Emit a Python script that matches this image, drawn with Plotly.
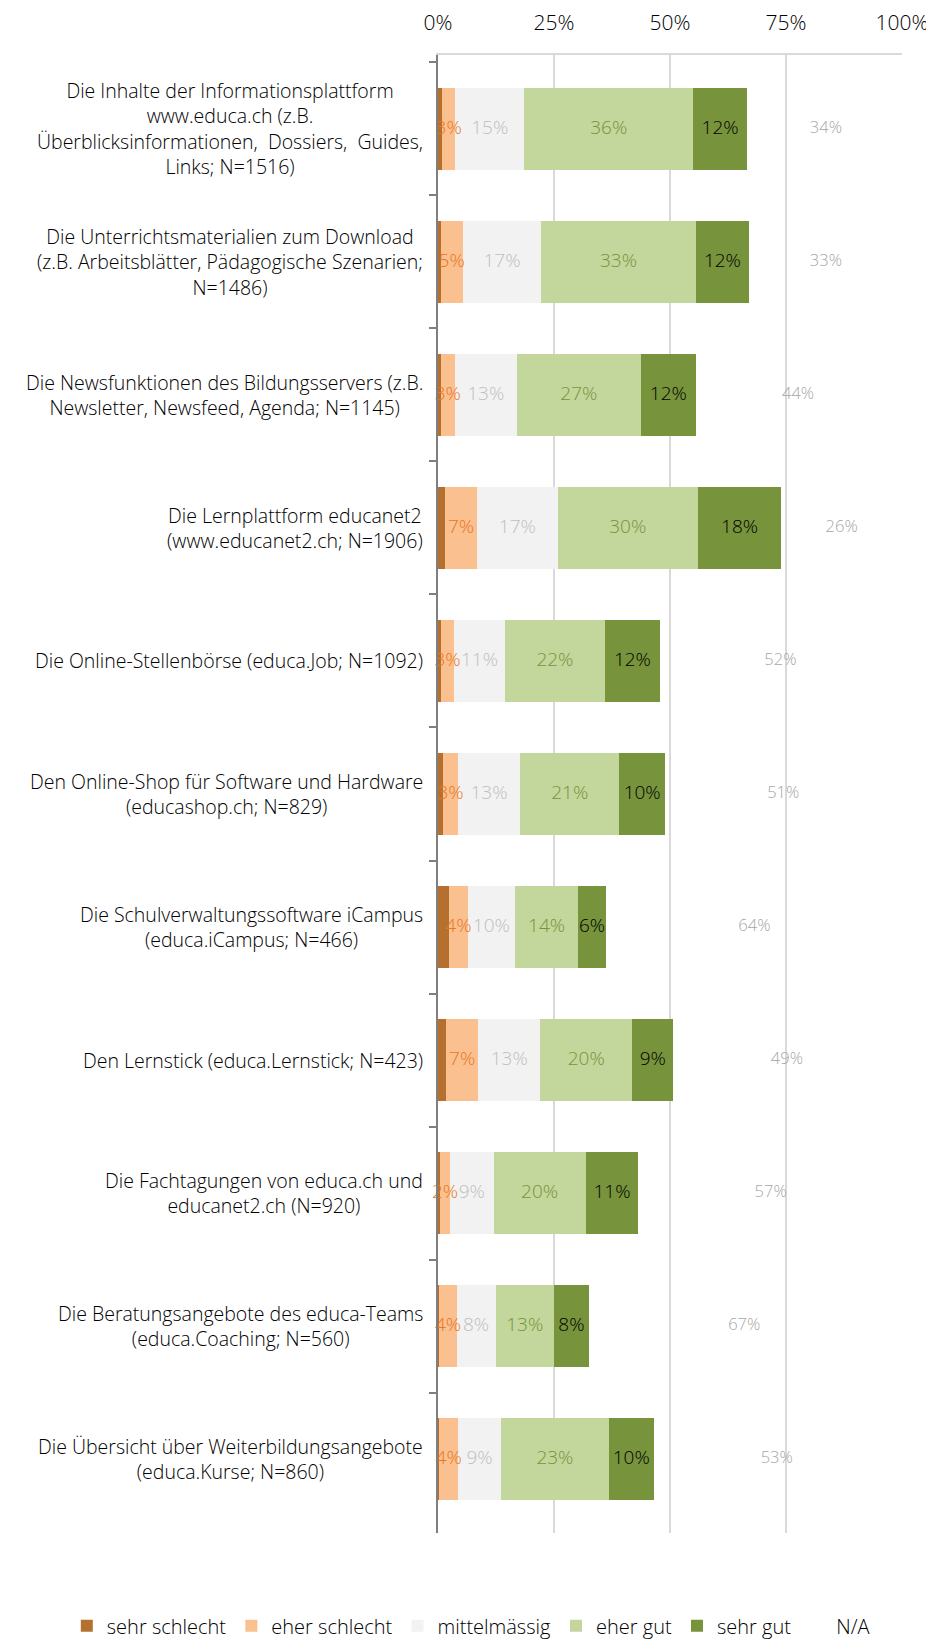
import plotly.graph_objects as go

categories = [
    'Die Inhalte der Informationsplattform<br>www.educa.ch (z.B.<br>Überblicksinformationen,&nbsp; Dossiers,&nbsp; Guides,<br>Links; N=1516)',
    'Die Unterrichtsmaterialien zum Download<br>(z.B. Arbeitsblätter, Pädagogische Szenarien;<br>N=1486)',
    'Die Newsfunktionen des Bildungsservers (z.B.<br>Newsletter, Newsfeed, Agenda; N=1145)',
    'Die Lernplattform educanet2<br>(www.educanet2.ch; N=1906)',
    'Die Online-Stellenbörse (educa.Job; N=1092)',
    'Den Online-Shop für Software und Hardware<br>(educashop.ch; N=829)',
    'Die Schulverwaltungssoftware iCampus<br>(educa.iCampus; N=466)',
    'Den Lernstick (educa.Lernstick; N=423)',
    'Die Fachtagungen von educa.ch und<br>educanet2.ch (N=920)',
    'Die Beratungsangebote des educa-Teams<br>(educa.Coaching; N=560)',
    'Die Übersicht über Weiterbildungsangebote<br>(educa.Kurse; N=860)',
]

sehr_schlecht = [0.9, 0.6, 0.6, 1.5, 0.6, 1.1, 2.4, 1.7, 0.4, 0.3, 0.3]
eher_schlecht = [2.8, 4.7, 3.0, 6.9, 2.9, 3.2, 4.0, 7.0, 2.2, 3.7, 4.0]
mittelmaessig = [14.9, 17.0, 13.4, 17.4, 10.9, 13.4, 10.2, 13.3, 9.4, 8.4, 9.3]
eher_gut = [36.4, 33.2, 26.7, 30.2, 21.6, 21.4, 13.6, 19.9, 19.8, 12.6, 23.2]
sehr_gut = [11.6, 11.6, 11.9, 18.0, 11.8, 9.8, 6.0, 8.8, 11.4, 7.5, 9.7]
n_a = [34, 33, 44, 26, 52, 51, 64, 49, 57, 67, 53]

series = [
    ('sehr schlecht', sehr_schlecht, '#B5702F', None, 19),
    ('eher schlecht', eher_schlecht, '#FAC090', '#E87722', 19),
    ('mittelmässig', mittelmaessig, '#F2F2F2', '#BFBFBF', 19),
    ('eher gut', eher_gut, '#C3D69B', '#77933C', 19),
    ('sehr gut', sehr_gut, '#77933C', '#000000', 19),
    ('N/A', n_a, 'rgba(255,255,255,0)', '#A6A6A6', 16.5),
]

FONT = 'Open Sans'

fig = go.Figure()

for name, vals, color, _, _ in series:
    fig.add_trace(go.Bar(
        y=categories,
        x=vals,
        name=name,
        orientation='h',
        marker=dict(color=color, line=dict(width=0)),
        hoverinfo='skip'
    ))

# value labels on top of all bars
base = [0.0] * len(categories)
for name, vals, color, text_color, size in series:
    centers = [b + v / 2 for b, v in zip(base, vals)]
    if text_color is not None:
        fig.add_trace(go.Scatter(
            y=categories,
            x=centers,
            mode='text',
            text=[f'{v:.0f}%' for v in vals],
            textfont=dict(color=text_color, size=size, family=FONT, weight=300),
            textposition='middle center',
            showlegend=False,
            hoverinfo='skip',
            cliponaxis=False
        ))
    base = [b + v for b, v in zip(base, vals)]

# category labels, centered blocks right-aligned against the axis
for cat in categories:
    fig.add_annotation(
        x=0, xref='paper', y=cat, yref='y',
        text=cat, showarrow=False,
        xanchor='right', yanchor='middle', align='center',
        xshift=-13,
        font=dict(size=19.5, color='#000000', family=FONT, weight=300)
    )

fig.update_layout(
    width=934,
    height=1649,
    barmode='stack',
    bargap=0.38,
    plot_bgcolor='white',
    paper_bgcolor='white',
    font=dict(family=FONT, color='#000000'),
    margin=dict(l=430, r=40, t=47, b=121),
    showlegend=True,
    legend=dict(
        orientation='h',
        x=-0.8, xanchor='left',
        y=-0.076, yanchor='bottom',
        font=dict(size=20, color='#000000', weight=300),
        itemwidth=30,
        traceorder='normal'
    ),
    xaxis=dict(
        side='top',
        range=[0, 100],
        tickvals=[0, 25, 50, 75, 100],
        ticktext=['0%', '25%', '50%', '75%', '100%'],
        showgrid=True,
        gridcolor='#D9D9D9',
        gridwidth=1.5,
        showline=True,
        linecolor='#D9D9D9',
        linewidth=1.5,
        zeroline=False,
        ticks='',
        automargin=False,
        ticklabelstandoff=15,
        tickfont=dict(size=21, color='#000000', weight=300)
    ),
    yaxis=dict(
        autorange='reversed',
        automargin=False,
        showticklabels=False,
        tickson='boundaries',
        ticks='outside',
        ticklen=7,
        tickcolor='#7F7F7F',
        tickwidth=1.5,
        showline=True,
        linecolor='#7F7F7F',
        linewidth=2,
        showgrid=False,
        zeroline=False
    )
)

fig.write_html('out.html')
